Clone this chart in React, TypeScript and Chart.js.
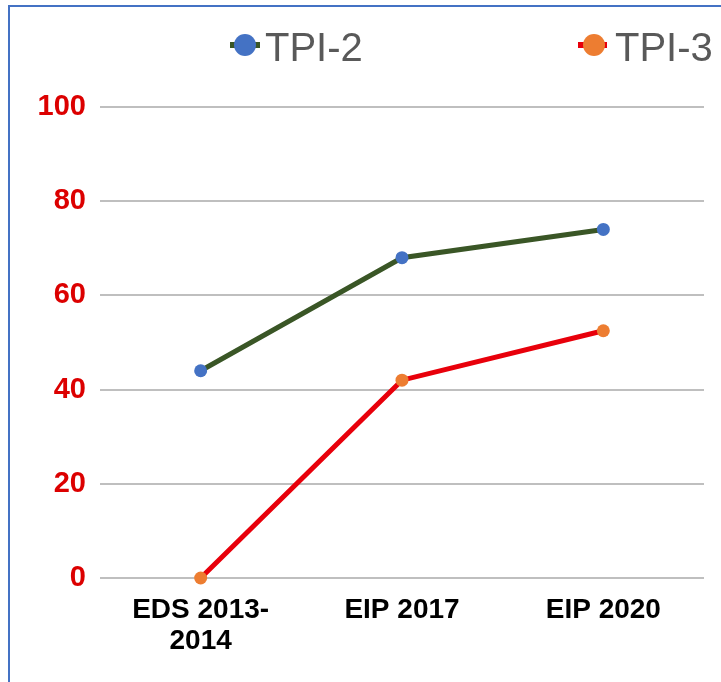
import React, { useEffect, useRef } from "react";
import { Chart, registerables } from "chart.js";

Chart.register(...registerables);

const categories: (string | string[])[] = [["EDS 2013-", "2014"], "EIP 2017", "EIP 2020"];
const tpi2Values = [44, 68, 74];
const tpi3Values = [0, 42, 52.5];
const yTicks = [0, 20, 40, 60, 80, 100];

const TPI2_LINE = "#3A5626";
const TPI2_POINT = "#4472C4";
const TPI3_LINE = "#E8000B";
const TPI3_POINT = "#ED7D31";

const legendPlugin = {
  id: "customLegend",
  afterDraw(chart: any) {
    const ctx = chart.ctx;
    const items = [
      { label: "TPI-2", line: TPI2_LINE, point: TPI2_POINT, lx1: 220, lx2: 250, cx: 235, tx: 255 },
      { label: "TPI-3", line: TPI3_LINE, point: TPI3_POINT, lx1: 568, lx2: 597, cx: 584, tx: 605 },
    ];
    const cy = 38;
    ctx.save();
    items.forEach((it) => {
      ctx.strokeStyle = it.line;
      ctx.lineWidth = 6;
      ctx.beginPath();
      ctx.moveTo(it.lx1, cy);
      ctx.lineTo(it.lx2, cy);
      ctx.stroke();
      ctx.fillStyle = it.point;
      ctx.beginPath();
      ctx.arc(it.cx, cy, 11, 0, Math.PI * 2);
      ctx.fill();
      ctx.fillStyle = "#595959";
      ctx.font = "40px 'Liberation Sans', Arial, sans-serif";
      ctx.textAlign = "left";
      ctx.textBaseline = "alphabetic";
      ctx.fillText(it.label, it.tx, 54);
    });
    ctx.restore();
  },
};

export default function App() {
  const ref = useRef<HTMLCanvasElement | null>(null);
  useEffect(() => {
    if (!ref.current) return;
    const chart = new Chart(ref.current, {
      type: "line",
      data: {
        labels: categories,
        datasets: [
          {
            label: "TPI-2",
            data: tpi2Values,
            borderColor: TPI2_LINE,
            backgroundColor: TPI2_POINT,
            pointBackgroundColor: TPI2_POINT,
            pointBorderColor: TPI2_POINT,
            pointRadius: 6.5,
            pointBorderWidth: 0,
            borderWidth: 5,
            tension: 0,
          },
          {
            label: "TPI-3",
            data: tpi3Values,
            borderColor: TPI3_LINE,
            backgroundColor: TPI3_POINT,
            pointBackgroundColor: TPI3_POINT,
            pointBorderColor: TPI3_POINT,
            pointRadius: 6.5,
            pointBorderWidth: 0,
            borderWidth: 5,
            tension: 0,
            clip: false as any,
          },
        ],
      },
      options: {
        animation: false,
        responsive: false,
        layout: { padding: { top: 100, right: 17, left: 0, bottom: 0 } },
        plugins: {
          legend: { display: false },
          tooltip: { enabled: false },
        },
        scales: {
          x: {
            offset: true,
            grid: { display: false, drawTicks: false },
            border: { display: false },
            ticks: {
              padding: 17,
              color: "#000000",
              font: { family: "'Liberation Sans', Arial", size: 28, weight: "bold", lineHeight: 1.1 },
              maxRotation: 0,
              autoSkip: false,
            },
            afterFit: (s: any) => {
              s.height = 104;
            },
          },
          y: {
            min: 0,
            max: 100,
            afterBuildTicks: (s: any) => {
              s.ticks = yTicks.map((v) => ({ value: v }));
            },
            grid: { color: "#BFBFBF", lineWidth: 2, drawTicks: false },
            border: { display: false },
            ticks: {
              padding: 14,
              color: "#DC0000",
              font: { family: "'Liberation Sans', Arial", size: 29, weight: "bold" },
            },
            afterFit: (s: any) => {
              s.width = 90;
            },
          },
        },
      },
      plugins: [legendPlugin],
    });
    return () => chart.destroy();
  }, []);

  return (
    <div
      style={{
        position: "absolute",
        left: 8,
        top: 5,
        width: 713,
        height: 677,
        borderLeft: "2px solid #4472C4",
        borderTop: "2px solid #4472C4",
        boxSizing: "border-box",
        background: "#fff",
      }}
    >
      <canvas ref={ref} width={711} height={675} style={{ display: "block", width: 711, height: 675 }} />
    </div>
  );
}
